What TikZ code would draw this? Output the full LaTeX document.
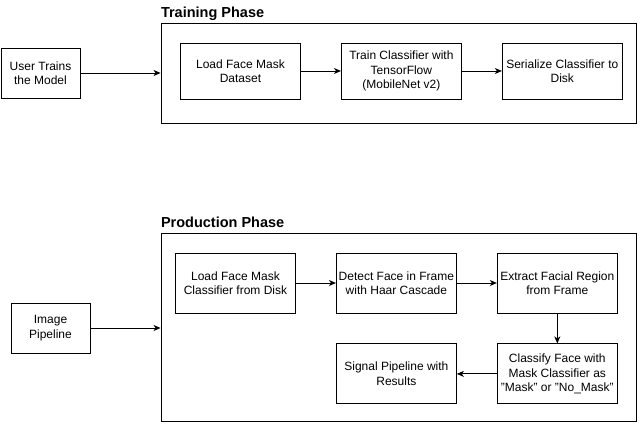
\documentclass[tikz,border=0pt]{standalone}
\usepackage{fontspec}
\setmainfont{Liberation Sans}
\usetikzlibrary{arrows.meta,positioning}
\tikzset{
    actorbox/.style={rectangle,draw,align=center,minimum width=79pt,minimum height=50pt,inner sep=2pt,font=\fontsize{12}{14.4}\selectfont},
    stepbox/.style={rectangle,draw,align=center,minimum width=120pt,minimum height=56pt,inner sep=2pt,font=\fontsize{12}{14.4}\selectfont},
    phasebox/.style={rectangle,draw,minimum width=475pt,inner sep=0pt},
    phasetitle/.style={anchor=base west,inner sep=0pt,font=\fontsize{14.5}{17}\selectfont\bfseries},
    flowline/.style={-{Stealth[length=7pt,width=6pt,inset=2pt]}}
}

\begin{document}
\begin{tikzpicture}[x=1pt,y=1pt,line width=0.9pt]
        \useasboundingbox (0,0) rectangle (642,424);
        % training phase
        \node[phasebox,minimum height=100pt] (training) at (398.5,351) {};
        \node[phasetitle] (traintitle) at ([yshift=5pt]training.north west) {Training Phase};
        \node[actorbox] (user) at (40.5,351) {User Trains\\the Model};
        \node[stepbox] (dataset) at (240.5,353) {Load Face Mask\\Dataset};
        \node[stepbox,right=40pt of dataset] (train) {Train Classifier with\\TensorFlow\\(MobileNet v2)};
        \node[stepbox,right=40pt of train] (serialize) {Serialize Classifier to\\Disk};
        \draw[flowline] (user) -- (user -| training.west);
        \draw[flowline] (dataset) -- (train);
        \draw[flowline] (train) -- (serialize);
        % production phase
        \node[phasebox,minimum height=188pt] (production) at (398.5,97) {};
        \node[phasetitle] (prodtitle) at ([yshift=5pt]production.north west) {Production Phase};
        \node[actorbox] (pipeline) at (50.5,96) {Image\\Pipeline};
        \node[stepbox,minimum height=60pt] (loadclf) at (235.5,141) {Load Face Mask\\Classifier from Disk};
        \node[stepbox,minimum height=60pt,right=40pt of loadclf] (detect) {Detect Face in Frame\\with Haar Cascade};
        \node[stepbox,minimum height=60pt,right=40pt of detect] (extract) {Extract Facial Region\\from Frame};
        \node[stepbox,minimum height=60pt,below=30pt of extract] (classify) {Classify Face with\\Mask Classifier as\\"Mask" or "No\_Mask"};
        \node[stepbox,minimum height=60pt,left=40pt of classify] (signal) {Signal Pipeline with\\Results};
        \draw[flowline] (pipeline) -- (pipeline -| production.west);
        \draw[flowline] (loadclf) -- (detect);
        \draw[flowline] (detect) -- (extract);
        \draw[flowline] (extract) -- (classify);
        \draw[flowline] (classify) -- (signal);
    \end{tikzpicture}
\end{document}
